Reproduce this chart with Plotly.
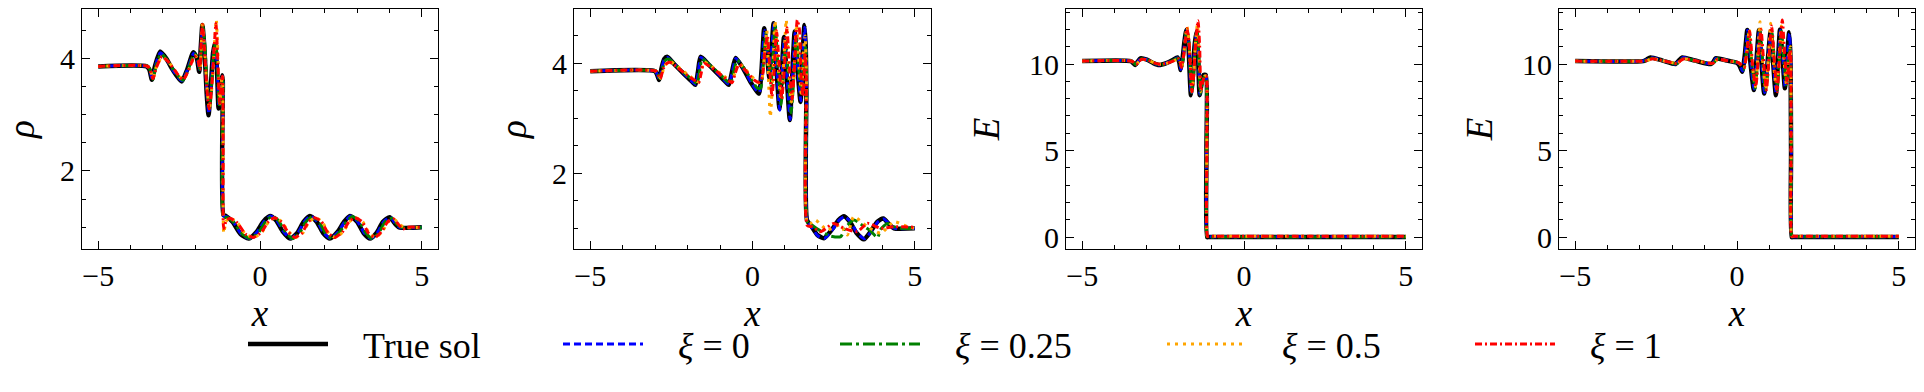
import plotly.graph_objects as go
from plotly.subplots import make_subplots

# density, early time  (x, rho)
RHO1_TRUE = [(-5, 3.857), (-3.5, 3.857), (-3.42, 3.80), (-3.34, 3.62), (-3.25, 3.85), (-3.09, 4.12), (-2.9, 4.0),
             (-2.7, 3.8), (-2.42, 3.59), (-2.25, 3.8), (-2.06, 4.11), (-1.95, 4.0), (-1.88, 3.76), (-1.83, 4.2),
             (-1.78, 4.59), (-1.72, 4.2), (-1.65, 3.4), (-1.59, 2.99), (-1.52, 3.5), (-1.45, 4.1), (-1.39, 4.27),
             (-1.33, 3.8), (-1.28, 3.11), (-1.22, 3.5), (-1.17, 3.70), (-1.15, 3.6), (-1.13, 1.22), (-1.05, 1.2),
             (-0.85, 1.1), (-0.6, 0.88), (-0.35, 0.8), (-0.1, 0.92), (0.1, 1.1), (0.31, 1.2), (0.5, 1.12), (0.7, 0.93),
             (0.93, 0.8), (1.15, 0.9), (1.35, 1.1), (1.54, 1.2), (1.75, 1.1), (1.95, 0.9), (2.16, 0.8), (2.4, 0.92),
             (2.6, 1.1), (2.78, 1.2), (3.0, 1.1), (3.2, 0.9), (3.4, 0.8), (3.6, 0.9), (3.8, 1.1), (4.01, 1.18),
             (4.15, 1.08), (4.3, 1.0), (5.0, 1.0)]
RHO1_XI0 = [(-5, 3.857), (-3.5, 3.857), (-3.41, 3.80), (-3.33, 3.63), (-3.24, 3.85), (-3.08, 4.10), (-2.9, 3.99),
            (-2.7, 3.80), (-2.41, 3.60), (-2.24, 3.80), (-2.05, 4.09), (-1.94, 4.0), (-1.87, 3.78), (-1.82, 4.2),
            (-1.77, 4.55), (-1.71, 4.2), (-1.64, 3.4), (-1.58, 3.02), (-1.51, 3.5), (-1.44, 4.1), (-1.38, 4.25),
            (-1.32, 3.8), (-1.27, 3.15), (-1.21, 3.5), (-1.16, 3.68), (-1.14, 3.6), (-1.12, 1.2), (-1.03, 1.19),
            (-0.83, 1.1), (-0.58, 0.88), (-0.33, 0.8), (-0.08, 0.92), (0.12, 1.1), (0.33, 1.2), (0.52, 1.12),
            (0.72, 0.93), (0.95, 0.8), (1.17, 0.9), (1.37, 1.1), (1.56, 1.2), (1.77, 1.1), (1.97, 0.9), (2.18, 0.8),
            (2.42, 0.92), (2.62, 1.1), (2.8, 1.2), (3.02, 1.1), (3.22, 0.9), (3.42, 0.8), (3.62, 0.9), (3.82, 1.1),
            (4.03, 1.18), (4.17, 1.08), (4.32, 1.0), (5.0, 1.0)]
RHO1_XI025 = [(-5, 3.857), (-3.48, 3.857), (-3.4, 3.8), (-3.31, 3.63), (-3.22, 3.85), (-3.06, 4.08), (-2.88, 3.98),
              (-2.68, 3.8), (-2.39, 3.61), (-2.22, 3.8), (-2.03, 4.08), (-1.92, 4.0), (-1.86, 3.8), (-1.81, 4.2),
              (-1.76, 4.56), (-1.7, 4.2), (-1.63, 3.45), (-1.57, 3.08), (-1.5, 3.5), (-1.43, 4.1), (-1.37, 4.28),
              (-1.31, 3.8), (-1.26, 3.15), (-1.2, 3.5), (-1.16, 3.65), (-1.14, 3.5), (-1.12, 1.18), (-1.0, 1.17),
              (-0.8, 1.08), (-0.55, 0.88), (-0.28, 0.8), (-0.03, 0.92), (0.17, 1.1), (0.38, 1.2), (0.57, 1.12),
              (0.77, 0.93), (1.0, 0.8), (1.22, 0.9), (1.42, 1.1), (1.61, 1.19), (1.82, 1.1), (2.02, 0.9), (2.23, 0.8),
              (2.47, 0.92), (2.67, 1.1), (2.85, 1.19), (3.07, 1.1), (3.27, 0.9), (3.47, 0.8), (3.67, 0.9), (3.87, 1.1),
              (4.07, 1.16), (4.22, 1.06), (4.37, 1.0), (5.0, 1.0)]
RHO1_XI05 = [(-5, 3.857), (-3.47, 3.857), (-3.38, 3.78), (-3.3, 3.65), (-3.2, 3.85), (-3.03, 4.02), (-2.85, 3.95),
             (-2.65, 3.8), (-2.37, 3.62), (-2.2, 3.8), (-2.0, 4.05), (-1.9, 3.95), (-1.85, 3.82), (-1.81, 4.3),
             (-1.78, 4.66), (-1.72, 4.25), (-1.64, 3.5), (-1.56, 3.1), (-1.47, 3.6), (-1.4, 4.3), (-1.35, 4.68),
             (-1.29, 3.9), (-1.24, 3.2), (-1.19, 3.6), (-1.16, 3.7), (-1.14, 2.5), (-1.12, 0.9), (-1.05, 1.1),
             (-0.95, 1.17), (-0.7, 1.08), (-0.45, 0.88), (-0.18, 0.82), (0.07, 0.92), (0.27, 1.1), (0.47, 1.17),
             (0.67, 1.1), (0.87, 0.93), (1.1, 0.82), (1.32, 0.9), (1.52, 1.1), (1.71, 1.17), (1.92, 1.1), (2.12, 0.9),
             (2.33, 0.82), (2.57, 0.92), (2.77, 1.1), (2.95, 1.17), (3.17, 1.1), (3.37, 0.9), (3.57, 0.82),
             (3.77, 0.92), (3.97, 1.1), (4.15, 1.14), (4.3, 1.06), (4.45, 1.0), (5.0, 1.0)]
RHO1_XI1 = [(-5, 3.857), (-3.47, 3.857), (-3.39, 3.78), (-3.31, 3.64), (-3.2, 3.84), (-3.03, 4.03), (-2.85, 3.95),
            (-2.65, 3.8), (-2.38, 3.62), (-2.2, 3.8), (-2.02, 4.04), (-1.91, 3.95), (-1.86, 3.8), (-1.82, 4.25),
            (-1.78, 4.6), (-1.72, 4.2), (-1.64, 3.45), (-1.57, 3.1), (-1.48, 3.6), (-1.41, 4.25), (-1.36, 4.62),
            (-1.3, 3.9), (-1.25, 3.2), (-1.2, 3.55), (-1.16, 3.68), (-1.14, 2.4), (-1.12, 0.98), (-1.04, 1.12),
            (-0.93, 1.16), (-0.7, 1.08), (-0.45, 0.88), (-0.2, 0.82), (0.05, 0.92), (0.26, 1.1), (0.45, 1.17),
            (0.65, 1.1), (0.85, 0.93), (1.08, 0.82), (1.3, 0.9), (1.5, 1.1), (1.69, 1.17), (1.9, 1.1), (2.1, 0.9),
            (2.31, 0.82), (2.55, 0.92), (2.75, 1.1), (2.93, 1.17), (3.15, 1.1), (3.35, 0.9), (3.55, 0.82),
            (3.75, 0.92), (3.95, 1.1), (4.13, 1.15), (4.28, 1.05), (4.42, 0.97), (4.55, 1.0), (5.0, 1.0)]

# density, later time
RHO2_TRUE = [(-5, 3.857), (-3.0, 3.857), (-2.93, 3.78), (-2.88, 3.70), (-2.8, 3.92), (-2.72, 4.08), (-2.63, 4.12),
             (-2.4, 3.98), (-2.1, 3.8), (-1.85, 3.66), (-1.76, 3.61), (-1.68, 3.85), (-1.6, 4.12), (-1.35, 3.98),
             (-1.05, 3.8), (-0.82, 3.66), (-0.73, 3.61), (-0.63, 3.85), (-0.52, 4.10), (-0.3, 3.92), (-0.05, 3.65),
             (0.1, 3.52), (0.2, 3.45), (0.28, 3.9), (0.36, 4.64), (0.44, 4.2), (0.52, 3.74), (0.59, 4.3),
             (0.65, 4.73), (0.73, 4.0), (0.83, 3.18), (0.9, 3.8), (0.97, 4.48), (1.06, 3.7), (1.15, 2.97), (1.22, 3.7),
             (1.3, 4.58), (1.4, 3.8), (1.48, 3.3), (1.54, 4.1), (1.6, 4.7), (1.64, 4.3), (1.66, 3.5), (1.68, 1.15),
             (1.8, 1.05), (2.0, 0.88), (2.2, 0.82), (2.45, 0.98), (2.65, 1.15), (2.82, 1.22), (3.0, 1.12),
             (3.2, 0.92), (3.43, 0.80), (3.65, 0.95), (3.85, 1.12), (4.03, 1.18), (4.2, 1.08), (4.36, 1.0), (5.0, 1.0)]
RHO2_XI0 = [(-5, 3.857), (-3.0, 3.857), (-2.92, 3.78), (-2.87, 3.70), (-2.79, 3.92), (-2.71, 4.08), (-2.62, 4.11),
            (-2.39, 3.98), (-2.09, 3.8), (-1.84, 3.66), (-1.75, 3.62), (-1.67, 3.85), (-1.59, 4.11), (-1.34, 3.98),
            (-1.04, 3.8), (-0.81, 3.66), (-0.72, 3.62), (-0.62, 3.85), (-0.51, 4.09), (-0.29, 3.92), (-0.04, 3.65),
            (0.11, 3.52), (0.21, 3.47), (0.29, 3.9), (0.37, 4.6), (0.45, 4.2), (0.53, 3.76), (0.6, 4.3), (0.66, 4.72),
            (0.74, 4.0), (0.84, 3.15), (0.91, 3.8), (0.98, 4.45), (1.07, 3.7), (1.16, 2.98), (1.23, 3.7),
            (1.31, 4.55), (1.41, 3.8), (1.49, 3.32), (1.55, 4.1), (1.61, 4.66), (1.65, 4.2), (1.67, 3.4),
            (1.69, 1.12), (1.82, 1.02), (2.02, 0.86), (2.22, 0.82), (2.47, 0.98), (2.67, 1.15), (2.84, 1.21),
            (3.02, 1.12), (3.22, 0.92), (3.45, 0.81), (3.67, 0.95), (3.87, 1.12), (4.05, 1.17), (4.22, 1.07),
            (4.38, 1.0), (5.0, 1.0)]
RHO2_XI025 = [(-5, 3.857), (-2.98, 3.857), (-2.9, 3.78), (-2.85, 3.72), (-2.77, 3.92), (-2.68, 4.06), (-2.58, 4.08),
              (-2.35, 3.96), (-2.05, 3.8), (-1.8, 3.67), (-1.71, 3.63), (-1.63, 3.85), (-1.55, 4.08), (-1.3, 3.96),
              (-1.0, 3.8), (-0.77, 3.67), (-0.68, 3.63), (-0.58, 3.85), (-0.47, 4.06), (-0.25, 3.9), (0.0, 3.68),
              (0.15, 3.55), (0.25, 3.55), (0.33, 3.95), (0.41, 4.55), (0.49, 4.1), (0.57, 3.6), (0.64, 4.2),
              (0.7, 4.7), (0.78, 4.0), (0.88, 3.25), (0.95, 3.8), (1.02, 4.45), (1.11, 3.75), (1.19, 3.1),
              (1.27, 3.7), (1.35, 4.5), (1.44, 3.8), (1.52, 3.45), (1.58, 4.1), (1.64, 4.3), (1.67, 3.6),
              (1.69, 1.12), (1.85, 1.05), (2.1, 0.95), (2.4, 0.86), (2.72, 0.85), (2.85, 1.0), (3.12, 1.15),
              (3.4, 1.05), (3.64, 0.95), (3.85, 0.83), (3.95, 0.98), (4.16, 1.09), (4.35, 1.03), (4.57, 1.0), (5.0, 1.0)]
RHO2_XI05 = [(-5, 3.857), (-2.97, 3.857), (-2.88, 3.78), (-2.83, 3.73), (-2.74, 3.9), (-2.63, 4.02), (-2.52, 4.03),
             (-2.3, 3.94), (-2.0, 3.8), (-1.75, 3.69), (-1.66, 3.66), (-1.58, 3.85), (-1.5, 4.03), (-1.25, 3.94),
             (-0.95, 3.8), (-0.72, 3.7), (-0.63, 3.66), (-0.53, 3.85), (-0.42, 4.0), (-0.2, 3.88), (0.05, 3.72),
             (0.18, 3.65), (0.28, 3.7), (0.36, 4.1), (0.44, 4.6), (0.5, 3.6), (0.55, 3.03), (0.62, 3.7), (0.69, 4.78),
             (0.78, 4.1), (0.86, 3.4), (0.95, 3.9), (1.04, 4.79), (1.12, 3.9), (1.2, 3.3), (1.28, 3.9), (1.36, 4.7),
             (1.44, 3.9), (1.51, 3.4), (1.57, 4.2), (1.62, 4.5), (1.66, 3.8), (1.69, 1.1), (1.79, 1.09),
             (1.94, 1.15), (2.3, 0.97), (2.7, 1.06), (2.92, 0.88), (3.12, 1.21), (3.54, 1.03), (3.95, 0.91),
             (4.36, 1.12), (4.78, 1.03), (5.0, 1.0)]
RHO2_XI1 = [(-5, 3.857), (-2.97, 3.857), (-2.89, 3.77), (-2.84, 3.72), (-2.75, 3.9), (-2.64, 4.0), (-2.54, 4.02),
            (-2.3, 3.92), (-2.0, 3.78), (-1.75, 3.68), (-1.66, 3.65), (-1.58, 3.83), (-1.5, 4.0), (-1.25, 3.92),
            (-0.95, 3.78), (-0.72, 3.68), (-0.63, 3.65), (-0.53, 3.83), (-0.42, 3.98), (-0.2, 3.86), (0.05, 3.7),
            (0.2, 3.66), (0.3, 3.75), (0.38, 4.2), (0.46, 4.5), (0.54, 3.8), (0.6, 3.4), (0.67, 3.9), (0.74, 4.6),
            (0.82, 4.0), (0.9, 3.35), (0.98, 3.9), (1.06, 4.65), (1.14, 3.9), (1.22, 3.35), (1.3, 4.0), (1.38, 4.79),
            (1.45, 4.6), (1.5, 3.7), (1.56, 3.4), (1.62, 4.2), (1.66, 3.7), (1.69, 1.05), (1.84, 1.03), (2.1, 0.94),
            (2.5, 1.09), (2.82, 1.0), (3.23, 0.94), (3.54, 1.09), (3.95, 1.0), (4.36, 1.03), (5.0, 1.02)]

# energy, early time
E1_TRUE = [(-5, 10.17), (-3.5, 10.17), (-3.42, 10.05), (-3.36, 9.94), (-3.28, 10.15), (-3.2, 10.33), (-3.0, 10.25),
           (-2.8, 10.05), (-2.63, 9.94), (-2.4, 10.05), (-2.2, 10.23), (-2.06, 10.38), (-2.0, 10.1), (-1.96, 9.65),
           (-1.9, 10.3), (-1.84, 11.3), (-1.78, 11.97), (-1.72, 11.2), (-1.68, 9.5), (-1.64, 8.2), (-1.59, 9.0),
           (-1.53, 11.0), (-1.47, 11.87), (-1.42, 10.5), (-1.37, 8.2), (-1.31, 8.9), (-1.25, 9.36), (-1.18, 9.36),
           (-1.16, 5.0), (-1.14, 0.0), (-1.1, 0.0), (-0.9, 0.0), (0.5, 0.0), (5, 0.0)]
E1_XI0 = [(-5, 10.17), (-3.5, 10.17), (-3.41, 10.05), (-3.35, 9.95), (-3.27, 10.15), (-3.19, 10.32), (-3.0, 10.25),
          (-2.8, 10.05), (-2.62, 9.95), (-2.4, 10.05), (-2.2, 10.22), (-2.05, 10.36), (-1.99, 10.1), (-1.95, 9.68),
          (-1.89, 10.3), (-1.83, 11.3), (-1.77, 11.95), (-1.71, 11.2), (-1.67, 9.5), (-1.63, 8.25), (-1.58, 9.0),
          (-1.52, 11.0), (-1.46, 11.85), (-1.41, 10.5), (-1.36, 8.25), (-1.3, 8.9), (-1.24, 9.3), (-1.18, 9.3),
          (-1.16, 5.0), (-1.14, 0.02), (-1.1, 0.02), (-0.9, 0.02), (0.5, 0.02), (5, 0.02)]
E1_XI025 = [(-5, 10.17), (-3.48, 10.17), (-3.4, 10.05), (-3.34, 9.96), (-3.26, 10.15), (-3.18, 10.3), (-2.98, 10.24),
            (-2.78, 10.05), (-2.6, 9.96), (-2.38, 10.05), (-2.18, 10.22), (-2.04, 10.34), (-1.98, 10.1),
            (-1.94, 9.75), (-1.88, 10.3), (-1.82, 11.3), (-1.77, 11.9), (-1.7, 11.2), (-1.66, 9.6), (-1.62, 8.35),
            (-1.57, 9.0), (-1.51, 11.0), (-1.45, 11.95), (-1.4, 10.6), (-1.35, 8.3), (-1.29, 8.9), (-1.23, 9.25),
            (-1.18, 9.3), (-1.16, 5.0), (-1.14, 0.0), (-1.1, 0.0), (-0.9, 0.0), (0.5, 0.0), (5, 0.0)]
E1_XI05 = [(-5, 10.17), (-3.47, 10.17), (-3.39, 10.06), (-3.33, 9.98), (-3.25, 10.15), (-3.16, 10.28), (-2.96, 10.22),
           (-2.76, 10.05), (-2.58, 9.98), (-2.36, 10.06), (-2.16, 10.2), (-2.02, 10.3), (-1.97, 10.1), (-1.93, 9.8),
           (-1.87, 10.4), (-1.81, 11.5), (-1.76, 12.15), (-1.7, 11.3), (-1.65, 9.6), (-1.61, 8.4), (-1.56, 9.2),
           (-1.5, 11.2), (-1.44, 12.3), (-1.39, 10.8), (-1.34, 8.4), (-1.28, 9.0), (-1.22, 9.3), (-1.17, 9.3),
           (-1.15, 5.0), (-1.13, 0.05), (-1.09, 0.05), (-0.9, 0.05), (0.5, 0.05), (5, 0.05)]
E1_XI1 = [(-5, 10.17), (-3.47, 10.17), (-3.39, 10.06), (-3.33, 9.98), (-3.25, 10.15), (-3.16, 10.28), (-2.96, 10.22),
          (-2.76, 10.05), (-2.58, 9.98), (-2.36, 10.06), (-2.16, 10.2), (-2.02, 10.3), (-1.97, 10.1), (-1.93, 9.8),
          (-1.87, 10.4), (-1.81, 11.4), (-1.76, 12.06), (-1.7, 11.3), (-1.65, 9.6), (-1.61, 8.4), (-1.56, 9.2),
          (-1.49, 11.3), (-1.42, 12.5), (-1.37, 11.0), (-1.33, 8.5), (-1.27, 9.0), (-1.22, 9.3), (-1.17, 9.3),
          (-1.15, 5.0), (-1.13, 0.05), (-1.09, 0.05), (-0.9, 0.05), (0.5, 0.05), (5, 0.05)]

# energy, later time
E2_TRUE = [(-5, 10.17), (-2.9, 10.17), (-2.8, 10.25), (-2.67, 10.38), (-2.3, 10.2), (-1.9, 10.0), (-1.8, 10.2),
           (-1.69, 10.38), (-1.3, 10.2), (-0.81, 10.0), (-0.72, 10.15), (-0.66, 10.33), (-0.3, 10.2), (0.0, 10.07),
           (0.08, 9.9), (0.16, 9.55), (0.24, 10.5), (0.32, 11.97), (0.42, 10.0), (0.52, 8.5), (0.6, 10.2),
           (0.68, 11.97), (0.76, 10.0), (0.84, 8.3), (0.94, 10.0), (1.04, 11.9), (1.12, 10.0), (1.2, 8.2),
           (1.27, 10.3), (1.33, 12.0), (1.41, 10.3), (1.48, 8.6), (1.55, 10.5), (1.61, 11.83), (1.65, 10.5),
           (1.67, 5.0), (1.69, 0.0), (1.73, 0.0), (1.9, 0.0), (3.0, 0.0), (5, 0.0)]
E2_XI0 = [(-5, 10.17), (-2.9, 10.17), (-2.79, 10.25), (-2.66, 10.37), (-2.29, 10.2), (-1.89, 10.0), (-1.79, 10.2),
          (-1.68, 10.37), (-1.29, 10.2), (-0.8, 10.0), (-0.71, 10.15), (-0.65, 10.32), (-0.29, 10.2), (0.01, 10.07),
          (0.09, 9.9), (0.17, 9.6), (0.25, 10.5), (0.33, 11.95), (0.43, 10.0), (0.53, 8.55), (0.61, 10.2),
          (0.69, 11.95), (0.77, 10.0), (0.85, 8.35), (0.95, 10.0), (1.05, 11.88), (1.13, 10.0), (1.21, 8.3),
          (1.28, 10.3), (1.34, 11.95), (1.42, 10.3), (1.49, 8.65), (1.56, 10.5), (1.62, 11.75), (1.66, 10.5),
          (1.68, 5.0), (1.7, 0.02), (1.74, 0.02), (1.9, 0.02), (3.0, 0.02), (5, 0.02)]
E2_XI025 = [(-5, 10.17), (-2.88, 10.17), (-2.77, 10.22), (-2.63, 10.33), (-2.26, 10.18), (-1.86, 10.02),
            (-1.76, 10.2), (-1.65, 10.33), (-1.26, 10.18), (-0.77, 10.02), (-0.68, 10.15), (-0.62, 10.3),
            (-0.26, 10.18), (0.04, 10.07), (0.12, 9.9), (0.2, 9.7), (0.28, 10.5), (0.36, 11.8), (0.46, 10.0),
            (0.56, 8.6), (0.64, 10.2), (0.72, 11.9), (0.8, 10.0), (0.88, 8.5), (0.98, 10.0), (1.08, 11.8),
            (1.16, 10.0), (1.24, 8.5), (1.31, 10.3), (1.37, 11.9), (1.45, 10.3), (1.52, 8.8), (1.58, 10.2),
            (1.64, 10.9), (1.66, 9.5), (1.68, 5.0), (1.7, 0.02), (1.74, 0.02), (1.9, 0.02), (3.0, 0.02), (5, 0.02)]
E2_XI05 = [(-5, 10.17), (-2.87, 10.17), (-2.75, 10.22), (-2.61, 10.3), (-2.24, 10.17), (-1.84, 10.04), (-1.74, 10.2),
           (-1.63, 10.3), (-1.24, 10.17), (-0.75, 10.04), (-0.66, 10.15), (-0.6, 10.28), (-0.24, 10.17),
           (0.06, 10.07), (0.14, 9.92), (0.22, 9.75), (0.3, 10.6), (0.38, 12.0), (0.47, 10.0), (0.57, 8.7),
           (0.64, 10.4), (0.71, 12.45), (0.8, 10.0), (0.89, 8.5), (0.97, 10.4), (1.04, 12.35), (1.13, 10.0),
           (1.22, 8.6), (1.3, 10.4), (1.37, 12.2), (1.45, 10.3), (1.53, 8.8), (1.6, 10.5), (1.65, 11.0),
           (1.67, 5.0), (1.69, 0.05), (1.73, 0.05), (1.9, 0.05), (3.0, 0.05), (5, 0.05)]
E2_XI1 = [(-5, 10.17), (-2.87, 10.17), (-2.75, 10.21), (-2.61, 10.3), (-2.24, 10.17), (-1.84, 10.04), (-1.74, 10.2),
          (-1.63, 10.3), (-1.24, 10.17), (-0.75, 10.04), (-0.66, 10.15), (-0.6, 10.28), (-0.24, 10.17),
          (0.06, 10.07), (0.14, 9.92), (0.22, 9.8), (0.3, 10.6), (0.39, 11.9), (0.48, 10.0), (0.58, 8.7),
          (0.66, 10.4), (0.74, 12.0), (0.83, 10.0), (0.91, 8.5), (0.99, 10.4), (1.07, 12.2), (1.16, 10.0),
          (1.24, 8.4), (1.32, 10.6), (1.4, 12.54), (1.48, 10.3), (1.55, 8.9), (1.61, 10.4), (1.65, 10.8),
          (1.67, 5.0), (1.69, 0.05), (1.73, 0.05), (1.9, 0.05), (3.0, 0.05), (5, 0.05)]

SERIES_NAMES = ["True sol", "<i>ξ</i> = 0", "<i>ξ</i> = 0.25", "<i>ξ</i> = 0.5", "<i>ξ</i> = 1"]
PANEL_YLABELS = ["ρ", "ρ", "E", "E"]

FONT = "Liberation Serif, Times New Roman, serif"
colors = ["#000000", "#0000ff", "#008000", "#ffa500", "#ff0000"]
dashes = ["solid", "7px,4px", "12px,4px,3px,4px", "3px,5px", "7px,3px,2px,3px"]
widths = [4.5, 3, 3, 3, 3]
legend_widths = [220, 182, 232, 213, 150]

panels = [
    [RHO1_TRUE, RHO1_XI0, RHO1_XI025, RHO1_XI05, RHO1_XI1],
    [RHO2_TRUE, RHO2_XI0, RHO2_XI025, RHO2_XI05, RHO2_XI1],
    [E1_TRUE, E1_XI0, E1_XI025, E1_XI05, E1_XI1],
    [E2_TRUE, E2_XI0, E2_XI025, E2_XI05, E2_XI1],
]

W, H = 1924, 392
fig = make_subplots(rows=1, cols=4)

for i, series in enumerate(panels):
    for j, pts in enumerate(series):
        xs, ys = zip(*pts)
        fig.add_trace(
            go.Scatter(
                x=xs, y=ys, mode="lines",
                line=dict(color=colors[j], width=widths[j], dash=dashes[j], shape="spline", smoothing=0.6),
                name="\u2002\u2004" + SERIES_NAMES[j],
                legendgroup=str(j),
                showlegend=(i == 0),
                legendwidth=legend_widths[j],
            ),
            row=1, col=i + 1,
        )

# axes box positions in pixels
x_boxes = [(82, 438), (574, 931), (1066, 1422), (1559, 1915)]
y_box = (1 - 249 / H, 1 - 9 / H)
y_ranges = [[0.615, 4.876], [0.624, 4.99], [-0.69, 13.18], [-0.69, 13.18]]

axis_common = dict(
    showline=True, linecolor="black", linewidth=1, mirror="allticks",
    ticks="inside", ticklen=8, tickwidth=1, tickcolor="black",
    showgrid=False, zeroline=False, automargin=False,
    tickfont=dict(family=FONT, size=30, color="black"),
)

for i in range(4):
    k = "" if i == 0 else str(i + 1)
    big = i >= 2
    fig.layout["xaxis" + k].update(
        domain=[x_boxes[i][0] / W, x_boxes[i][1] / W],
        range=[-5.5, 5.5], tick0=0, dtick=5,
        minor=dict(ticks="inside", ticklen=4, dtick=1, tickcolor="black", tickwidth=1),
        title=dict(text="<i>x</i>", font=dict(family=FONT, size=37), standoff=9),
        **axis_common,
    )
    fig.layout["yaxis" + k].update(
        domain=list(y_box),
        range=y_ranges[i], tick0=0, dtick=5 if big else 2,
        minor=dict(ticks="inside", ticklen=4, dtick=1 if big else 0.5, tickcolor="black", tickwidth=1),
        title=dict(text="<i>" + PANEL_YLABELS[i] + "</i>", font=dict(family=FONT, size=37),
                   standoff=18 if big else 14),
        **axis_common,
    )

fig.update_layout(
    width=W, height=H,
    margin=dict(l=0, r=0, t=0, b=0),
    paper_bgcolor="white", plot_bgcolor="white",
    font=dict(family=FONT, color="black", size=30),
    legend=dict(
        orientation="h", x=243 / W, xanchor="left", y=1 - 344 / H, yanchor="middle",
        font=dict(family=FONT, size=36), itemwidth=80, bgcolor="rgba(0,0,0,0)",
    ),
    showlegend=True,
)

# the page body has a default 8px margin; drop it so the figure sits at the window origin
fig.write_html("out.html", config={"displayModeBar": False},
               post_script="document.body.style.margin='0';")
